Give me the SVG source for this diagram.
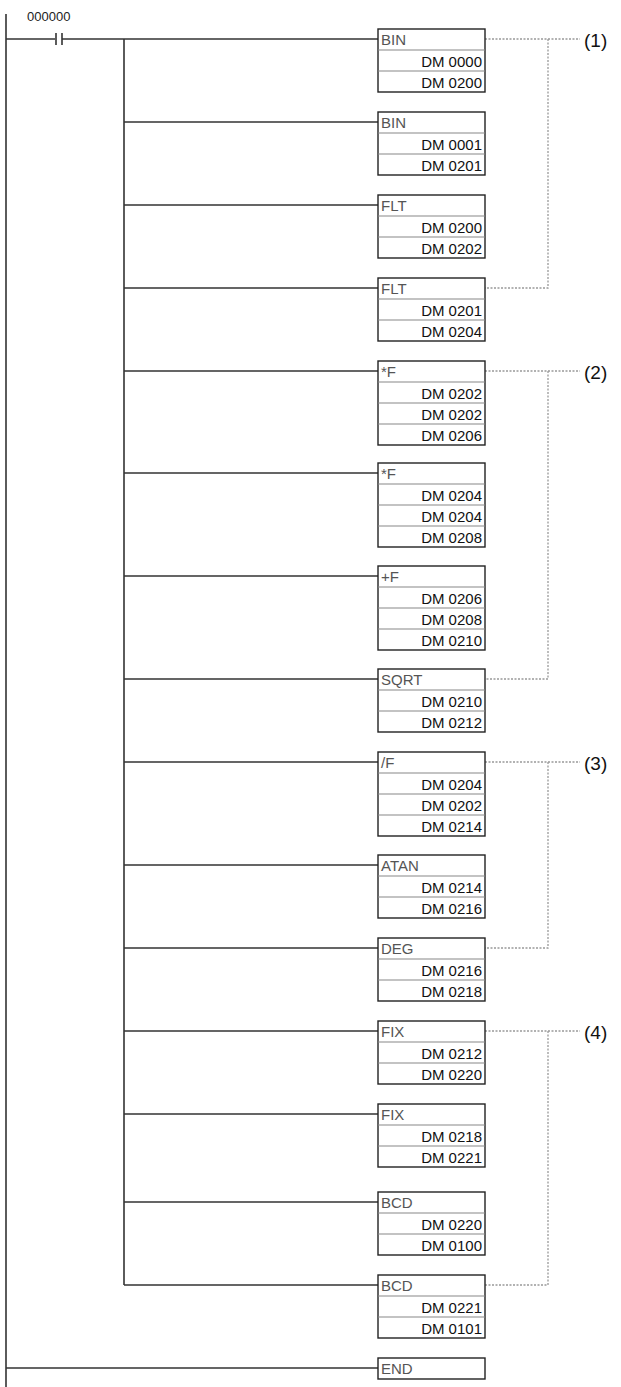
<svg xmlns="http://www.w3.org/2000/svg" width="621" height="1387" viewBox="0 0 621 1387">
<style>
.w{stroke:#333;stroke-width:1.6;fill:none}
.b{fill:#fff;stroke:#222;stroke-width:1.4}
.s{stroke:#888;stroke-width:1.2}
.d{stroke:#999;stroke-width:1.3;stroke-dasharray:2 1.5;fill:none}
.n{font-family:"Liberation Sans",Arial,sans-serif;font-size:15px;fill:#555}
.v{font-family:"Liberation Sans",Arial,sans-serif;font-size:15px;fill:#111;text-anchor:end}
.l{font-family:"Liberation Sans",Arial,sans-serif;font-size:19px;fill:#111}
</style>
<defs>
<g id="b3"><rect class="b" x="0" y="0" width="107" height="63"/><line class="s" x1="0" y1="21" x2="107" y2="21"/><line class="s" x1="0" y1="42" x2="107" y2="42"/></g>
<g id="b4"><rect class="b" x="0" y="0" width="107" height="84"/><line class="s" x1="0" y1="21" x2="107" y2="21"/><line class="s" x1="0" y1="42" x2="107" y2="42"/><line class="s" x1="0" y1="63" x2="107" y2="63"/></g>
</defs>
<g id="connectors">
<line class="w" x1="6" y1="14" x2="6" y2="1387"/>
<line class="w" x1="6" y1="39" x2="55" y2="39"/>
<line class="w" x1="56" y1="33" x2="56" y2="45"/>
<line class="w" x1="62" y1="33" x2="62" y2="45"/>
<line class="w" x1="62" y1="39" x2="378" y2="39"/>
<line class="w" x1="124" y1="39" x2="124" y2="1285"/>
<path class="w" d="M124 122H378M124 205H378M124 288H378M124 371H378M124 473H378M124 576H378M124 679H378M124 762H378M124 865H378M124 948H378M124 1031H378M124 1114H378M124 1202H378M124 1285H378M6 1368H378"/>
<path class="d" d="M485 39H580M548 39V288H485"/>
<path class="d" d="M485 371H580M548 371V679H485"/>
<path class="d" d="M485 762H580M548 762V948H485"/>
<path class="d" d="M485 1031H580M548 1031V1285H485"/>
</g>
<text class="n" x="27" y="21" style="font-size:13px;fill:#222">000000</text>
<text class="l" x="584" y="47">(1)</text>
<text class="l" x="584" y="379">(2)</text>
<text class="l" x="584" y="770">(3)</text>
<text class="l" x="584" y="1039">(4)</text>
<g id="n1" transform="translate(378,29)"><use href="#b3"/><text class="n" x="3" y="16">BIN</text><text class="v" x="104" y="38">DM 0000</text><text class="v" x="104" y="59">DM 0200</text></g>
<g id="n2" transform="translate(378,112)"><use href="#b3"/><text class="n" x="3" y="16">BIN</text><text class="v" x="104" y="38">DM 0001</text><text class="v" x="104" y="59">DM 0201</text></g>
<g id="n3" transform="translate(378,195)"><use href="#b3"/><text class="n" x="3" y="16">FLT</text><text class="v" x="104" y="38">DM 0200</text><text class="v" x="104" y="59">DM 0202</text></g>
<g id="n4" transform="translate(378,278)"><use href="#b3"/><text class="n" x="3" y="16">FLT</text><text class="v" x="104" y="38">DM 0201</text><text class="v" x="104" y="59">DM 0204</text></g>
<g id="n5" transform="translate(378,361)"><use href="#b4"/><text class="n" x="3" y="16">*F</text><text class="v" x="104" y="38">DM 0202</text><text class="v" x="104" y="59">DM 0202</text><text class="v" x="104" y="80">DM 0206</text></g>
<g id="n6" transform="translate(378,463)"><use href="#b4"/><text class="n" x="3" y="16">*F</text><text class="v" x="104" y="38">DM 0204</text><text class="v" x="104" y="59">DM 0204</text><text class="v" x="104" y="80">DM 0208</text></g>
<g id="n7" transform="translate(378,566)"><use href="#b4"/><text class="n" x="3" y="16">+F</text><text class="v" x="104" y="38">DM 0206</text><text class="v" x="104" y="59">DM 0208</text><text class="v" x="104" y="80">DM 0210</text></g>
<g id="n8" transform="translate(378,669)"><use href="#b3"/><text class="n" x="3" y="16">SQRT</text><text class="v" x="104" y="38">DM 0210</text><text class="v" x="104" y="59">DM 0212</text></g>
<g id="n9" transform="translate(378,752)"><use href="#b4"/><text class="n" x="3" y="16">/F</text><text class="v" x="104" y="38">DM 0204</text><text class="v" x="104" y="59">DM 0202</text><text class="v" x="104" y="80">DM 0214</text></g>
<g id="n10" transform="translate(378,855)"><use href="#b3"/><text class="n" x="3" y="16">ATAN</text><text class="v" x="104" y="38">DM 0214</text><text class="v" x="104" y="59">DM 0216</text></g>
<g id="n11" transform="translate(378,938)"><use href="#b3"/><text class="n" x="3" y="16">DEG</text><text class="v" x="104" y="38">DM 0216</text><text class="v" x="104" y="59">DM 0218</text></g>
<g id="n12" transform="translate(378,1021)"><use href="#b3"/><text class="n" x="3" y="16">FIX</text><text class="v" x="104" y="38">DM 0212</text><text class="v" x="104" y="59">DM 0220</text></g>
<g id="n13" transform="translate(378,1104)"><use href="#b3"/><text class="n" x="3" y="16">FIX</text><text class="v" x="104" y="38">DM 0218</text><text class="v" x="104" y="59">DM 0221</text></g>
<g id="n14" transform="translate(378,1192)"><use href="#b3"/><text class="n" x="3" y="16">BCD</text><text class="v" x="104" y="38">DM 0220</text><text class="v" x="104" y="59">DM 0100</text></g>
<g id="n15" transform="translate(378,1275)"><use href="#b3"/><text class="n" x="3" y="16">BCD</text><text class="v" x="104" y="38">DM 0221</text><text class="v" x="104" y="59">DM 0101</text></g>
<g id="n16" transform="translate(378,1358)"><rect class="b" x="0" y="0" width="107" height="21"/><text class="n" x="3" y="16">END</text></g>
</svg>
